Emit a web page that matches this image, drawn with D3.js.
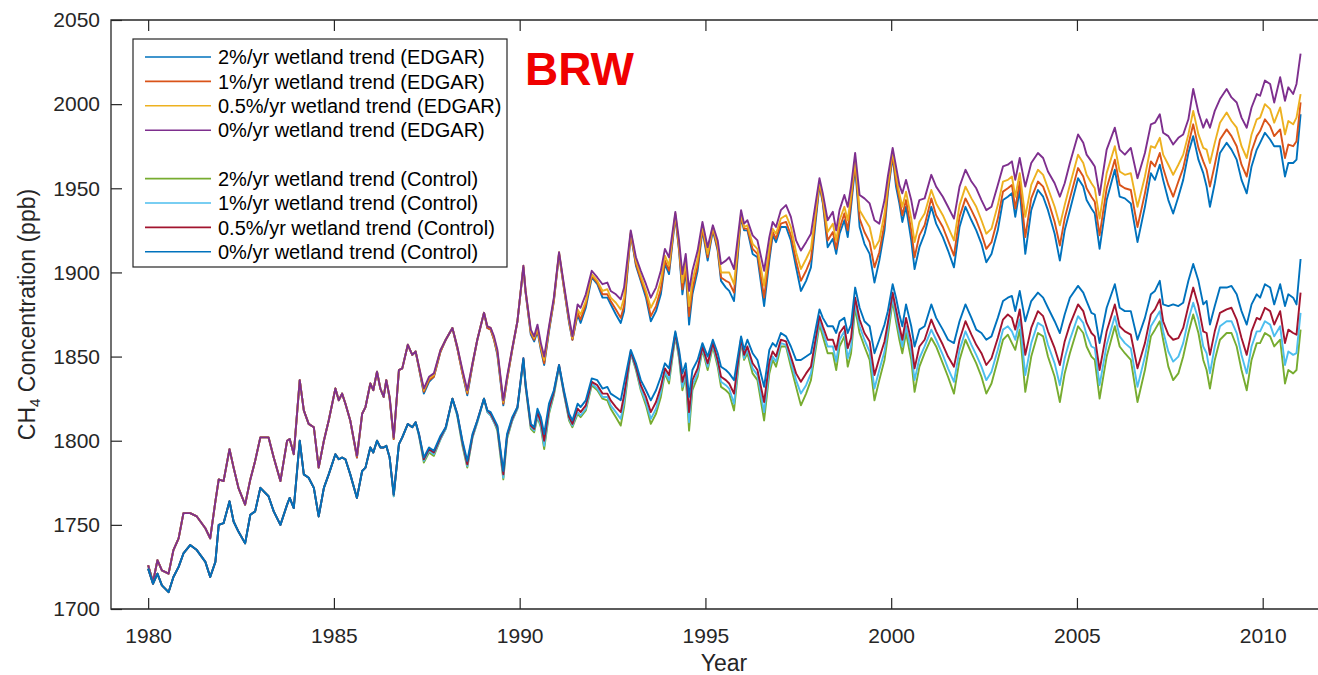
<!DOCTYPE html>
<html><head><meta charset="utf-8">
<script src="https://cdn.jsdelivr.net/npm/d3@7"></script>
<style>
body{margin:0;background:#fff;}
svg{display:block;font-family:"Liberation Sans",Arial,Helvetica,sans-serif;}
</style>
</head><body>
<svg id="chart" width="1318" height="675"></svg>
<script>
// ---------------- DATA ----------------
const years = [
1980.00,1980.13,1980.25,1980.37,1980.55,1980.68,1980.82,1980.95,1981.13,1981.31,1981.54,1981.67,1981.81,1981.90,1982.03,1982.19,1982.30,1982.43,1982.61,1982.75,1982.88,1983.02,1983.24,1983.38,1983.56,1983.74,1983.81,1983.92,1984.08,1984.19,1984.32,1984.46,1984.59,1984.73,1984.86,
1985.04,1985.13,1985.22,1985.31,1985.44,1985.62,1985.76,1985.85,1985.98,1986.06,1986.16,1986.25,1986.34,1986.41,1986.50,1986.61,1986.75,1986.84,1986.99,1987.11,1987.20,1987.29,1987.42,1987.56,1987.69,1987.87,1988.01,1988.19,1988.32,1988.46,1988.59,1988.73,1988.86,1989.04,1989.13,1989.22,1989.31,1989.40,1989.56,1989.66,1989.80,1989.94,
1990.10,1990.16,1990.30,1990.39,1990.48,1990.57,1990.66,1990.79,1990.92,1991.06,1991.19,1991.33,1991.42,1991.56,1991.64,1991.78,1991.94,1992.09,1992.23,1992.36,1992.45,1992.59,1992.72,1992.81,1992.99,1993.13,1993.26,1993.40,1993.53,1993.67,1993.80,1993.91,1994.02,1994.19,1994.29,1994.38,1994.47,1994.56,1994.65,1994.79,1994.92,1995.06,
1995.20,1995.33,1995.42,1995.55,1995.64,1995.77,1995.96,1996.04,1996.13,1996.27,1996.40,1996.58,1996.72,1996.81,1996.90,1997.03,1997.17,1997.30,1997.44,1997.57,1997.71,1997.84,1998.07,1998.16,1998.29,1998.43,1998.52,1998.61,1998.74,1998.83,1998.92,1999.03,1999.15,1999.28,1999.42,1999.55,1999.68,1999.82,1999.91,2000.04,2000.13,2000.22,
2000.30,2000.40,2000.54,2000.63,2000.76,2000.90,2001.08,2001.21,2001.39,2001.53,2001.69,2001.84,2002.00,2002.16,2002.29,2002.43,2002.56,2002.70,2002.87,2003.01,2003.14,2003.25,2003.34,2003.46,2003.61,2003.77,2003.95,2004.09,2004.22,2004.40,2004.54,2004.67,2004.81,2005.03,2005.17,2005.26,
2005.39,2005.48,2005.61,2005.80,2006.02,2006.15,2006.29,2006.45,2006.63,2006.83,2006.99,2007.10,2007.23,2007.32,2007.46,2007.59,2007.73,2007.86,2008.00,2008.13,2008.27,2008.40,2008.49,2008.58,2008.71,2008.85,2009.03,2009.16,2009.30,2009.43,2009.57,2009.70,2009.84,2009.93,2010.06,2010.20,2010.31,2010.47,2010.60,2010.69,2010.82,2010.91,2011.02
];

// 2%/yr wetland trend (EDGAR)
const edgar2 = [
1726,1716,1729,1723,1721,1735,1742,1757,1757,1755,1748,1742,1764,1777,1776,1795,1784,1772,1762,1777,1788,1802,1802,1790,1776,1800,1801,1792,1836,1818,1810,1808,1784,1800,1812,
1831,1824,1828,1822,1812,1790,1816,1820,1834,1830,1841,1831,1826,1836,1825,1801,1842,1843,1857,1851,1853,1843,1828,1835,1838,1853,1860,1867,1855,1840,1827,1845,1860,1876,1867,1866,1860,1851,1821,1836,1854,1871,
1903,1888,1863,1859,1865,1854,1845,1865,1883,1911,1891,1870,1860,1875,1870,1879,1897,1893,1885,1885,1881,1875,1870,1877,1923,1904,1895,1885,1871,1877,1887,1905,1899,1933,1913,1887,1901,1869,1887,1901,1925,1907,
1925,1913,1895,1891,1889,1883,1933,1925,1925,1911,1909,1880,1907,1922,1918,1927,1927,1919,1903,1889,1895,1903,1952,1941,1915,1920,1911,1923,1931,1921,1939,1963,1927,1917,1911,1894,1907,1925,1947,1969,1951,1941,
1930,1939,1919,1902,1915,1923,1939,1929,1921,1913,1903,1927,1939,1931,1925,1917,1906,1911,1925,1943,1945,1947,1933,1949,1911,1937,1949,1945,1937,1923,1907,1925,1937,1956,1951,1943,
1938,1935,1914,1943,1961,1945,1944,1941,1918,1939,1959,1955,1964,1955,1943,1935,1945,1955,1971,1981,1967,1959,1951,1939,1953,1971,1977,1973,1967,1955,1947,1963,1973,1977,1983,1979,1975,1975,1957,1965,1965,1967,1994
];
// 1%/yr wetland trend (EDGAR)
const edgar1 = [
1726,1716,1729,1723,1721,1735,1742,1757,1757,1755,1748,1742,1764,1777,1776,1795,1784,1772,1762,1777,1788,1802,1802,1790,1776,1800,1801,1792,1836,1818,1810,1808,1784,1800,1812,
1831,1824,1828,1822,1812,1790,1816,1820,1834,1830,1841,1831,1826,1836,1825,1801,1842,1843,1857,1851,1853,1843,1829,1836,1838,1853,1860,1867,1855,1840,1828,1845,1860,1876,1867,1866,1860,1852,1822,1836,1854,1871,
1903,1888,1864,1860,1866,1855,1846,1866,1883,1911,1891,1871,1860,1876,1872,1881,1898,1894,1887,1887,1883,1878,1873,1880,1923,1905,1896,1887,1874,1880,1890,1907,1901,1934,1914,1890,1903,1874,1890,1904,1926,1909,
1926,1914,1897,1895,1894,1888,1934,1926,1926,1914,1911,1885,1910,1924,1920,1929,1930,1922,1907,1895,1901,1908,1953,1942,1919,1924,1914,1926,1935,1925,1942,1965,1932,1924,1918,1903,1912,1929,1949,1970,1954,1944,
1934,1943,1925,1909,1922,1928,1944,1934,1927,1919,1910,1933,1944,1937,1931,1923,1914,1918,1932,1948,1950,1952,1938,1954,1921,1944,1954,1951,1943,1930,1916,1932,1944,1962,1957,1950,
1945,1942,1922,1950,1967,1952,1950,1949,1927,1947,1966,1963,1971,1962,1952,1945,1954,1962,1976,1988,1974,1966,1961,1951,1964,1979,1985,1981,1975,1964,1957,1972,1981,1984,1991,1987,1981,1985,1968,1976,1975,1978,2001
];
// 0.5%/yr wetland trend (EDGAR)
const edgar05 = [
1726,1716,1729,1723,1721,1735,1742,1757,1757,1755,1748,1742,1764,1777,1776,1795,1784,1772,1762,1777,1788,1802,1802,1790,1776,1800,1801,1792,1836,1818,1810,1808,1784,1800,1812,
1831,1824,1828,1822,1812,1791,1816,1820,1834,1830,1841,1831,1826,1836,1826,1802,1842,1843,1857,1851,1853,1844,1830,1837,1839,1854,1860,1867,1856,1841,1829,1846,1860,1876,1868,1867,1861,1853,1823,1837,1855,1871,
1904,1889,1865,1861,1867,1856,1848,1867,1884,1912,1892,1872,1861,1878,1875,1883,1899,1895,1889,1890,1885,1882,1878,1885,1924,1907,1898,1889,1879,1885,1895,1910,1904,1935,1916,1894,1906,1880,1895,1908,1928,1911,
1927,1916,1900,1900,1900,1893,1935,1927,1928,1917,1914,1892,1915,1926,1923,1932,1934,1927,1912,1902,1908,1914,1954,1944,1924,1929,1919,1931,1939,1931,1946,1967,1937,1932,1927,1914,1919,1935,1952,1972,1958,1947,
1939,1948,1932,1918,1930,1935,1949,1941,1934,1927,1919,1940,1951,1944,1939,1931,1923,1926,1940,1954,1955,1957,1945,1959,1933,1952,1961,1958,1950,1939,1928,1940,1952,1970,1965,1958,
1953,1950,1932,1959,1975,1960,1958,1959,1939,1957,1975,1974,1980,1970,1964,1958,1964,1970,1982,1996,1982,1974,1973,1965,1977,1989,1995,1990,1986,1975,1968,1982,1991,1992,2000,1997,1989,1998,1982,1990,1988,1992,2006
];
// 0%/yr wetland trend (EDGAR)
const edgar0 = [
1726,1716,1729,1723,1721,1735,1742,1757,1757,1755,1748,1742,1764,1777,1776,1795,1784,1772,1762,1777,1788,1802,1802,1790,1776,1800,1801,1792,1836,1818,1810,1808,1784,1800,1812,
1831,1824,1828,1822,1812,1791,1816,1820,1834,1830,1841,1831,1826,1836,1826,1802,1842,1843,1857,1851,1853,1844,1831,1838,1840,1854,1860,1867,1856,1842,1830,1846,1860,1876,1868,1867,1862,1854,1824,1838,1855,1871,
1904,1889,1866,1862,1869,1858,1850,1868,1885,1912,1893,1873,1862,1881,1879,1887,1901,1897,1893,1894,1889,1887,1884,1891,1925,1909,1901,1893,1885,1891,1901,1914,1909,1936,1919,1899,1911,1889,1901,1913,1930,1915,
1928,1919,1905,1907,1909,1902,1937,1929,1931,1922,1919,1901,1921,1930,1927,1937,1940,1933,1919,1913,1918,1923,1956,1947,1931,1936,1925,1937,1946,1939,1951,1971,1946,1944,1941,1931,1929,1943,1957,1974,1963,1952,
1947,1955,1943,1932,1943,1944,1958,1951,1945,1939,1932,1951,1961,1954,1950,1943,1937,1939,1952,1963,1964,1966,1955,1968,1951,1965,1971,1968,1960,1953,1945,1953,1965,1982,1977,1970,
1966,1963,1946,1973,1986,1973,1970,1974,1956,1971,1988,1989,1994,1983,1981,1976,1980,1982,1991,2009,1995,1986,1991,1986,1996,2003,2009,2004,2001,1992,1986,1998,2006,2005,2014,2012,2001,2016,2002,2010,2006,2012,2030
];
// 2%/yr wetland trend (Control)
const control2 = [
1724,1715,1721,1714,1710,1719,1725,1733,1738,1735,1728,1719,1728,1750,1751,1764,1752,1746,1739,1756,1758,1772,1767,1758,1750,1762,1766,1760,1800,1780,1778,1772,1755,1772,1780,
1792,1789,1790,1789,1780,1766,1782,1784,1796,1793,1800,1796,1796,1797,1790,1767,1798,1802,1810,1808,1811,1803,1787,1793,1791,1801,1807,1825,1815,1797,1784,1802,1811,1825,1817,1815,1811,1806,1777,1801,1812,1819,
1848,1832,1807,1805,1814,1808,1795,1816,1827,1844,1828,1812,1808,1816,1814,1818,1833,1830,1825,1824,1819,1814,1809,1820,1852,1842,1830,1821,1810,1816,1826,1840,1834,1862,1849,1830,1838,1806,1830,1838,1854,1842,
1856,1844,1832,1830,1828,1818,1859,1848,1852,1840,1836,1812,1840,1848,1844,1856,1856,1844,1832,1821,1828,1836,1869,1862,1852,1852,1842,1856,1862,1844,1852,1879,1864,1856,1848,1824,1836,1848,1862,1883,1871,1860,
1852,1864,1848,1829,1844,1852,1861,1856,1846,1838,1828,1848,1860,1852,1846,1838,1828,1834,1848,1860,1863,1858,1854,1866,1829,1850,1864,1862,1850,1838,1823,1840,1852,1868,1864,1856,
1850,1848,1825,1850,1868,1856,1852,1848,1823,1842,1862,1866,1871,1860,1844,1836,1840,1850,1864,1875,1864,1848,1842,1831,1848,1860,1864,1864,1856,1842,1830,1848,1858,1858,1864,1862,1856,1860,1834,1842,1840,1842,1866
];
// 1%/yr wetland trend (Control)
const control1 = [
1724,1715,1721,1714,1710,1719,1725,1733,1738,1735,1728,1719,1728,1750,1751,1764,1752,1746,1739,1756,1758,1772,1767,1758,1750,1762,1766,1760,1800,1780,1778,1772,1755,1772,1780,
1792,1789,1790,1789,1780,1766,1782,1784,1796,1793,1800,1796,1796,1797,1790,1767,1798,1802,1810,1808,1811,1803,1788,1794,1792,1801,1807,1825,1815,1798,1785,1802,1811,1825,1817,1815,1811,1807,1778,1802,1812,1819,
1848,1832,1808,1806,1815,1809,1797,1817,1828,1844,1828,1813,1809,1817,1815,1819,1834,1831,1826,1826,1821,1817,1813,1823,1852,1843,1831,1823,1813,1819,1829,1841,1836,1863,1850,1832,1840,1811,1833,1840,1855,1844,
1857,1846,1835,1833,1831,1822,1860,1849,1854,1843,1839,1817,1843,1850,1847,1858,1857,1847,1836,1828,1833,1840,1871,1865,1856,1856,1847,1860,1865,1849,1856,1882,1868,1860,1853,1831,1842,1853,1866,1885,1874,1864,
1856,1868,1853,1836,1849,1856,1866,1860,1851,1843,1835,1854,1865,1857,1851,1844,1836,1841,1854,1866,1868,1865,1860,1872,1839,1858,1870,1868,1857,1846,1833,1849,1860,1874,1870,1863,
1856,1855,1833,1857,1874,1862,1858,1855,1832,1850,1868,1872,1877,1865,1853,1847,1850,1858,1872,1882,1872,1856,1852,1840,1856,1868,1871,1871,1864,1851,1840,1856,1865,1865,1871,1869,1862,1868,1845,1853,1851,1852,1876
];
// 0.5%/yr wetland trend (Control)
const control05 = [
1724,1715,1721,1714,1710,1719,1725,1733,1738,1735,1728,1719,1728,1750,1751,1764,1752,1746,1739,1756,1758,1772,1767,1758,1750,1762,1766,1760,1800,1780,1778,1772,1755,1772,1780,
1792,1789,1790,1789,1780,1766,1782,1784,1796,1793,1800,1796,1796,1797,1790,1768,1798,1802,1810,1808,1811,1804,1789,1795,1793,1802,1808,1825,1816,1799,1786,1803,1812,1825,1818,1816,1812,1808,1780,1803,1813,1820,
1849,1833,1809,1807,1817,1811,1800,1819,1829,1845,1829,1814,1810,1819,1817,1821,1835,1833,1828,1828,1824,1820,1817,1827,1853,1844,1833,1826,1817,1823,1832,1843,1839,1864,1852,1835,1842,1817,1836,1843,1856,1846,
1858,1848,1838,1836,1834,1828,1861,1851,1856,1846,1842,1823,1847,1853,1850,1860,1859,1850,1840,1835,1840,1844,1874,1868,1860,1860,1854,1864,1868,1855,1861,1885,1872,1864,1859,1839,1849,1859,1870,1888,1878,1868,
1860,1873,1859,1843,1856,1860,1872,1865,1857,1850,1844,1860,1871,1863,1857,1852,1845,1849,1861,1872,1875,1873,1866,1878,1851,1867,1877,1874,1865,1855,1845,1859,1869,1881,1877,1870,
1864,1862,1842,1865,1881,1868,1865,1863,1843,1858,1875,1878,1884,1871,1863,1860,1861,1867,1880,1891,1880,1865,1864,1851,1865,1876,1878,1879,1872,1861,1851,1865,1873,1872,1879,1877,1869,1877,1858,1866,1864,1863,1888
];
// 0%/yr wetland trend (Control)
const control0 = [
1724,1715,1721,1714,1710,1719,1725,1733,1738,1735,1728,1719,1728,1750,1751,1764,1752,1746,1739,1756,1758,1772,1767,1758,1750,1762,1766,1760,1800,1780,1778,1772,1755,1772,1780,
1792,1789,1790,1789,1780,1766,1782,1784,1796,1793,1800,1796,1796,1797,1790,1768,1798,1802,1810,1808,1811,1804,1790,1796,1794,1803,1808,1825,1816,1800,1788,1804,1812,1825,1818,1817,1813,1809,1782,1804,1814,1820,
1849,1834,1810,1808,1819,1814,1804,1822,1830,1845,1830,1816,1812,1822,1820,1824,1837,1836,1831,1832,1828,1826,1824,1834,1854,1846,1836,1830,1824,1830,1838,1846,1843,1865,1854,1840,1846,1826,1842,1848,1858,1850,
1860,1852,1844,1842,1840,1836,1862,1854,1860,1852,1848,1832,1854,1858,1856,1864,1862,1856,1848,1848,1850,1852,1878,1873,1868,1868,1864,1871,1873,1864,1869,1891,1879,1871,1868,1852,1860,1869,1877,1893,1885,1875,
1868,1881,1868,1856,1866,1868,1881,1873,1866,1860,1858,1871,1881,1873,1866,1864,1860,1862,1873,1883,1885,1886,1877,1889,1871,1883,1888,1885,1879,1871,1864,1875,1885,1892,1888,1883,
1876,1875,1858,1879,1893,1879,1877,1877,1860,1873,1887,1889,1895,1881,1880,1881,1880,1882,1895,1905,1895,1881,1883,1869,1880,1891,1891,1892,1887,1877,1869,1881,1887,1885,1893,1891,1881,1893,1880,1887,1885,1881,1908
];

const seriesLabels = [
  "2%/yr wetland trend (EDGAR)",
  "1%/yr wetland trend (EDGAR)",
  "0.5%/yr wetland trend (EDGAR)",
  "0%/yr wetland trend (EDGAR)",
  "2%/yr wetland trend (Control)",
  "1%/yr wetland trend (Control)",
  "0.5%/yr wetland trend (Control)",
  "0%/yr wetland trend (Control)"
];
const seriesValues = [edgar2, edgar1, edgar05, edgar0, control2, control1, control05, control0];
const xTickValues = [1980, 1985, 1990, 1995, 2000, 2005, 2010];
const yTickValues = [1700, 1750, 1800, 1850, 1900, 1950, 2000, 2050];
const xDomain = [1979, 2012];
const yDomain = [1700, 2050];
const stationLabel = "BRW";

// ---------------- STYLE ----------------
const seriesColors = ["#0072BD","#D95319","#EDB120","#7E2F8E","#77AC30","#4DBEEE","#A2142F","#0072BD"];
const axisColor = "#262626";

// ---------------- DRAW ----------------
const svg = d3.select("#chart");
svg.append("rect").attr("width",1318).attr("height",675).attr("fill","#fff");

const plot = {left:111, right:1337, top:20, bottom:609};
const x = d3.scaleLinear().domain(xDomain).range([plot.left, plot.right]);
const y = d3.scaleLinear().domain(yDomain).range([plot.bottom, plot.top]);

svg.append("defs").append("clipPath").attr("id","clip")
  .append("rect").attr("x",plot.left).attr("y",plot.top)
  .attr("width",plot.right-plot.left).attr("height",plot.bottom-plot.top);

const lineGen = d3.line().x(d=>x(d[0])).y(d=>y(d[1]));
const gLines = svg.append("g").attr("clip-path","url(#clip)");
seriesValues.forEach((vals,i)=>{
  const n = Math.min(vals.length, years.length);
  const pts = d3.range(n).map(k=>[years[k], vals[k]]);
  gLines.append("path").datum(pts)
    .attr("d", lineGen)
    .attr("fill","none")
    .attr("stroke", seriesColors[i])
    .attr("stroke-width", 1.9)
    .attr("stroke-linejoin","round");
});

// axes
const tickLen = 11;
const xAxis = svg.append("g").attr("transform",`translate(0,${plot.bottom})`)
  .call(d3.axisBottom(x).tickValues(xTickValues).tickFormat(d3.format("d"))
        .tickSizeInner(-tickLen).tickSizeOuter(0).tickPadding(19));
const xAxisTop = svg.append("g").attr("transform",`translate(0,${plot.top})`)
  .call(d3.axisTop(x).tickValues(xTickValues).tickFormat("")
        .tickSizeInner(-tickLen).tickSizeOuter(0));
const yAxis = svg.append("g").attr("transform",`translate(${plot.left},0)`)
  .call(d3.axisLeft(y).tickValues(yTickValues).tickFormat(d3.format("d"))
        .tickSizeInner(-tickLen).tickSizeOuter(0).tickPadding(11));
[xAxis, xAxisTop, yAxis].forEach(g=>{
  g.select(".domain").remove();
  g.selectAll(".tick line").attr("stroke",axisColor).attr("stroke-width",1.2);
  g.selectAll(".tick text").attr("fill",axisColor).attr("font-size",21)
    .attr("font-family",'"Liberation Sans",Arial,sans-serif');
});
// axes box
svg.append("path")
  .attr("d",`M${plot.right},${plot.top}H${plot.left}V${plot.bottom}H${plot.right}`)
  .attr("fill","none").attr("stroke",axisColor).attr("stroke-width",1.3);

// axis labels
svg.append("text").attr("x",(plot.left+plot.right)/2).attr("y",671)
  .attr("text-anchor","middle").attr("font-size",23).attr("fill",axisColor).text("Year");
const yl = svg.append("text")
  .attr("transform",`translate(35,${(plot.top+plot.bottom)/2}) rotate(-90)`)
  .attr("text-anchor","middle").attr("font-size",23).attr("fill",axisColor);
yl.append("tspan").text("CH");
yl.append("tspan").attr("font-size",15).attr("dy",5).text("4");
yl.append("tspan").attr("dy",-5).text(" Concentration (ppb)");

// legend
const lg = svg.append("g");
lg.append("rect").attr("x",133).attr("y",39).attr("width",374).attr("height",228)
  .attr("fill","#fff").attr("stroke",axisColor).attr("stroke-width",1.2);
seriesLabels.forEach((lab,i)=>{
  const ry = 57 + i*24.4 + (i>=4 ? 24 : 0);
  lg.append("line").attr("x1",145).attr("x2",211).attr("y1",ry).attr("y2",ry)
    .attr("stroke",seriesColors[i]).attr("stroke-width",1.6);
  lg.append("text").attr("x",218).attr("y",ry).attr("dy","0.36em")
    .attr("font-size",20).attr("fill","#000").text(lab);
});

// station label
svg.append("text").attr("x",525).attr("y",85)
  .attr("font-size",46).attr("font-weight","bold").attr("fill","#F00000")
  .text(stationLabel);
</script>
</body></html>
